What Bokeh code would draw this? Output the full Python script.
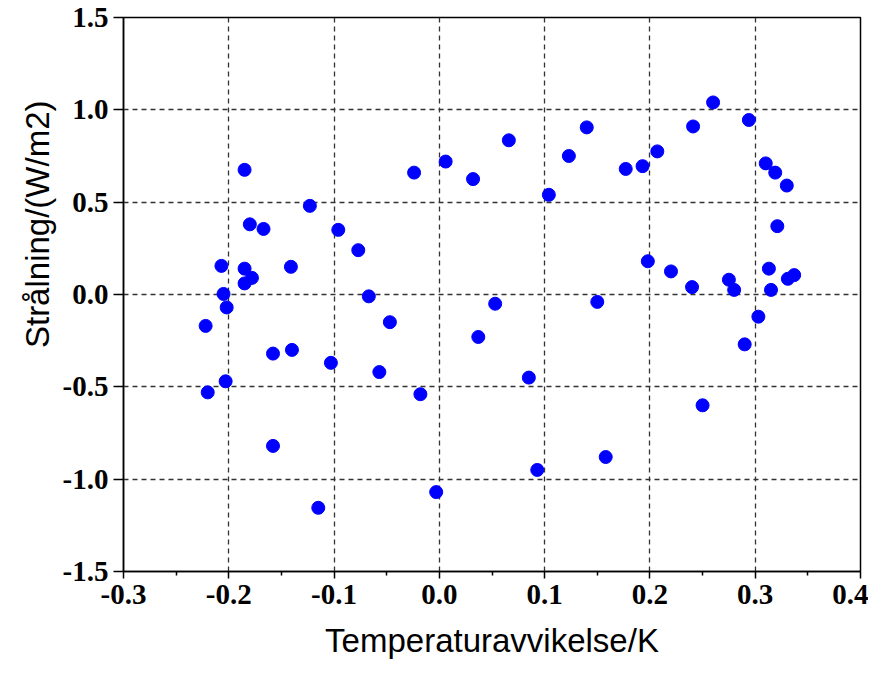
from bokeh.plotting import figure
from bokeh.models import FixedTicker, Range1d, Title
from bokeh.embed import file_html
from bokeh.resources import INLINE

temp_dev = [-0.222, -0.220, -0.207, -0.205, -0.202, -0.203, -0.185, -0.180, -0.185, -0.178,
            -0.185, -0.167, -0.158, -0.158, -0.141, -0.140, -0.123, -0.115, -0.103, -0.096,
            -0.077, -0.067, -0.057, -0.047, -0.024, -0.018, -0.003, 0.006, 0.032, 0.037,
            0.053, 0.066, 0.085, 0.093, 0.104, 0.123, 0.140, 0.150, 0.158, 0.177,
            0.193, 0.198, 0.207, 0.220, 0.240, 0.241, 0.250, 0.260, 0.275, 0.280,
            0.290, 0.294, 0.303, 0.310, 0.313, 0.315, 0.319, 0.321, 0.330, 0.331, 0.337]
radiation = [-0.17, -0.53, 0.155, 0.003, -0.07, -0.47, 0.675, 0.38, 0.14, 0.09,
             0.06, 0.355, -0.32, -0.82, 0.15, -0.30, 0.48, -1.155, -0.37, 0.35,
             0.24, -0.01, -0.42, -0.15, 0.66, -0.54, -1.07, 0.72, 0.625, -0.23,
             -0.05, 0.835, -0.45, -0.95, 0.54, 0.75, 0.905, -0.04, -0.88, 0.68,
             0.695, 0.18, 0.775, 0.125, 0.04, 0.91, -0.60, 1.04, 0.08, 0.025,
             -0.27, 0.945, -0.12, 0.71, 0.14, 0.025, 0.66, 0.37, 0.59, 0.085, 0.105]

x_ticks = [-0.3, -0.2, -0.1, 0.0, 0.1, 0.2, 0.3, 0.4]
x_tick_labels = ["-0.3", "-0.2", "-0.1", "0.0", "0.1", "0.2", "0.3", "0.4"]
x_minor = [-0.25, -0.15, -0.05, 0.05, 0.15, 0.25, 0.35]
y_ticks = [-1.5, -1.0, -0.5, 0.0, 0.5, 1.0, 1.5]
y_tick_labels = ["-1.5", "-1.0", "-0.5", "0.0", "0.5", "1.0", "1.5"]
x_title = "Temperaturavvikelse/K"
y_title = "Strålning/(W/m2)"

p = figure(width=868, height=661, output_backend="svg", toolbar_location=None,
           x_range=Range1d(-0.3, 0.4), y_range=Range1d(-1.5, 1.5),
           min_border_left=123, min_border_right=8, min_border_top=17, min_border_bottom=88)
p.background_fill_color = "white"
p.border_fill_color = "white"
p.outline_line_color = "black"
p.outline_line_width = 1.5
p.outline_line_alpha = 1.0

p.scatter(temp_dev, radiation, size=13, color="#0000FF", line_color="#0000FF")

p.xaxis.ticker = FixedTicker(ticks=x_ticks, minor_ticks=x_minor)
p.yaxis.ticker = FixedTicker(ticks=y_ticks)
p.xaxis.major_label_overrides = {t: l for t, l in zip(x_ticks, x_tick_labels)}
p.yaxis.major_label_overrides = {t: l for t, l in zip(y_ticks, y_tick_labels)}

for ax in (p.xaxis[0], p.yaxis[0]):
    ax.axis_line_color = "black"
    ax.axis_line_width = 1.5
    ax.major_tick_line_color = "black"
    ax.major_tick_line_width = 1.5
    ax.minor_tick_line_color = "black"
    ax.minor_tick_line_width = 1.5
    ax.major_tick_in = 0
    ax.minor_tick_in = 0
    ax.major_label_text_font = "Liberation Serif"
    ax.major_label_text_font_style = "bold"
    ax.major_label_text_font_size = "29px"
    ax.major_label_text_color = "black"
    ax.axis_label_text_font = "Liberation Sans"
    ax.axis_label_text_font_style = "normal"
    ax.axis_label_text_font_size = "33px"
    ax.axis_label_text_color = "black"

p.xaxis.major_tick_out = 7
p.xaxis.minor_tick_out = 4
p.xaxis.major_label_standoff = 6
p.xaxis.axis_label = x_title
p.xaxis.axis_label_standoff = 15

p.yaxis.major_tick_out = 10
p.yaxis.minor_tick_out = 0
p.yaxis.major_label_standoff = 5

ytitle = Title(text=y_title, align="right", offset=83, standoff=8,
               text_font="Liberation Sans", text_font_size="33px",
               text_font_style="normal", text_color="black")
p.add_layout(ytitle, "left")

for g in (p.xgrid[0], p.ygrid[0]):
    g.grid_line_color = "#333333"
    g.grid_line_dash = "5 4"
    g.grid_line_width = 1.3

open("out.html", "w").write(file_html(p, INLINE))
